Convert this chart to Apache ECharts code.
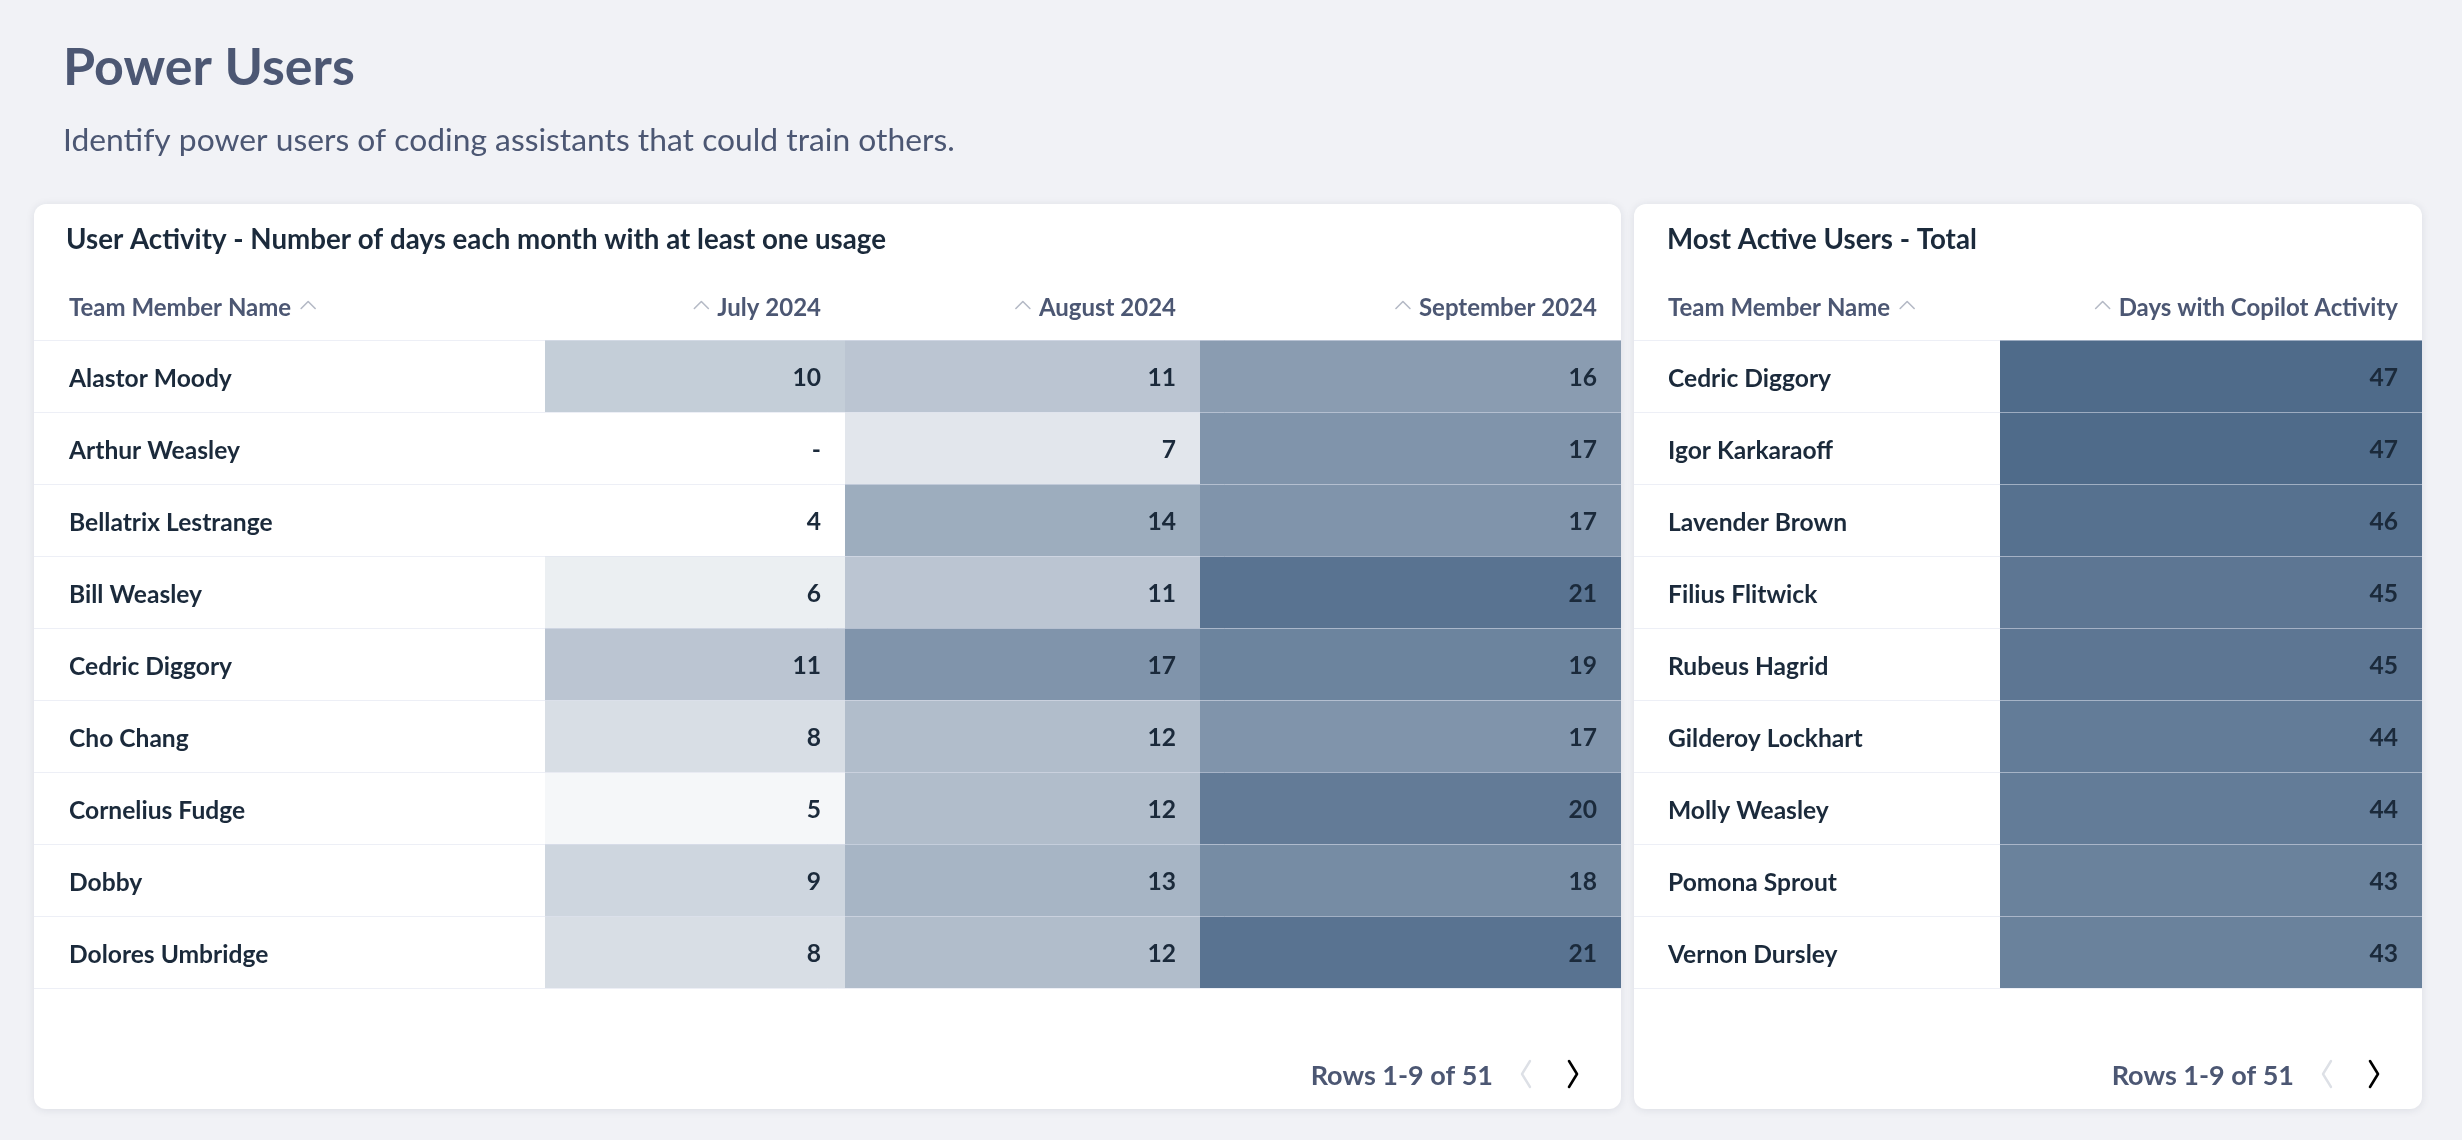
<!DOCTYPE html>
<html><head><meta charset="utf-8">
<script src="https://cdn.jsdelivr.net/npm/echarts@6/dist/echarts.min.js"></script>
<style>html,body{margin:0;padding:0;background:#f1f2f6}#c{width:2462px;height:1140px}</style>
</head><body><div id="c"></div>
<script>
// ---- text ----
const pageTitle = 'Power Users';
const pageSubtitle = 'Identify power users of coding assistants that could train others.';
const activityTitle = 'User Activity - Number of days each month with at least one usage';
const totalTitle = 'Most Active Users - Total';
const nameHeader = 'Team Member Name';
const pagerText = 'Rows 1-9 of 51';

// ---- data: left table ----
const months = ['July 2024', 'August 2024', 'September 2024'];
const activityNames = ['Alastor Moody', 'Arthur Weasley', 'Bellatrix Lestrange', 'Bill Weasley', 'Cedric Diggory', 'Cho Chang', 'Cornelius Fudge', 'Dobby', 'Dolores Umbridge'];
const julyDays = [10, null, 4, 6, 11, 8, 5, 9, 8];
const augustDays = [11, 7, 14, 11, 17, 12, 12, 13, 12];
const septemberDays = [16, 17, 17, 21, 19, 17, 20, 18, 21];

// ---- data: right table ----
const totalHeader = 'Days with Copilot Activity';
const totalNames = ['Cedric Diggory', 'Igor Karkaraoff', 'Lavender Brown', 'Filius Flitwick', 'Rubeus Hagrid', 'Gilderoy Lockhart', 'Molly Weasley', 'Pomona Sprout', 'Vernon Dursley'];
const totalDays = [47, 47, 46, 45, 45, 44, 44, 43, 43];

// ---- layout ----
const FONT = 'Lato';
const TOP = 340, ROWS_H = 648;
const cardL = {x: 34, y: 204, w: 1587, h: 905};
const cardR = {x: 1634, y: 204, w: 788, h: 905};
const colsL = [{x: 545, w: 300}, {x: 845, w: 355}, {x: 1200, w: 421}];
const colR = {x: 2000, w: 422};
const PAD = 24;
const ROW_FS = 24.6;
const DARK = '#1b2a3b', SLATE = '#4c5773';

const ctx = document.createElement('canvas').getContext('2d');
function tw(text, font) { ctx.font = font; return ctx.measureText(text).width; }

function toData(arr) { return arr.map((v, i) => [0, i, v]); }

function renderCell(params, api) {
  const i = api.value(1);
  const c = api.coord([0, i]);
  const sz = api.size([1, 1]);
  const r = params.coordSys;
  const v = api.value(2);
  const has = v != null && !isNaN(v);
  return {
    type: 'group',
    children: [
      {type: 'rect', shape: {x: r.x, y: c[1] - sz[1] / 2, width: r.width, height: sz[1]},
       style: {fill: has ? api.visual('color') : '#ffffff'}},
      {type: 'text', style: {text: has ? String(v) : '-', x: r.x + r.width - PAD, y: c[1] + 2,
        align: 'right', verticalAlign: 'middle', fontSize: ROW_FS, fontWeight: 'bold', fontFamily: FONT, fill: DARK}}
    ]
  };
}

const grids = [], xAxes = [], yAxes = [], series = [];
function addGrid(x, w, cats, names, opts) {
  const idx = grids.length;
  grids.push({left: x, top: TOP, width: w, height: ROWS_H, containLabel: false});
  xAxes.push({type: 'category', gridIndex: idx, data: cats, show: false});
  yAxes.push(Object.assign({type: 'category', gridIndex: idx, data: names, inverse: true,
    axisLine: {show: false}, axisTick: {show: false}, axisLabel: {show: false}, splitLine: {show: false}}, opts || {}));
  return idx;
}
const sepLine = {show: true, lineStyle: {color: 'rgba(222,226,238,0.55)', width: 1}};
// full-width grids for row separators (drawn above the cells)
addGrid(cardL.x, cardL.w, [''], activityNames, {z: 10, splitLine: sepLine});
addGrid(cardR.x, cardR.w, [''], totalNames, {z: 10, splitLine: sepLine});
const nameLabel = (margin) => ({show: true, margin: margin, align: 'left',
  formatter: '{n|{value}}',
  rich: {n: {padding: [6, 0, 0, 0], fontSize: ROW_FS, fontWeight: 'bold', fontFamily: FONT, color: DARK}},
  fontSize: ROW_FS, fontWeight: 'bold', fontFamily: FONT, color: DARK});
const monthData = [julyDays, augustDays, septemberDays];
colsL.forEach((col, k) => {
  const g = addGrid(col.x, col.w, [months[k]], activityNames,
    k === 0 ? {axisLabel: nameLabel(col.x - (cardL.x + 35))} : {});
  series.push({type: 'custom', xAxisIndex: g, yAxisIndex: g, renderItem: renderCell,
    encode: {x: 0, y: 1}, data: toData(monthData[k]), z: 2});
});
const gR = addGrid(colR.x, colR.w, [totalHeader], totalNames, {axisLabel: nameLabel(colR.x - (cardR.x + 34))});
series.push({type: 'custom', xAxisIndex: gR, yAxisIndex: gR, renderItem: renderCell,
  encode: {x: 0, y: 1}, data: toData(totalDays), z: 2});

// ---- graphic: cards, titles, headers, pager ----
const graphic = [];
function txt(text, x, y, font, fill, align) {
  graphic.push({type: 'text', z: 100, style: {text: text, x: x, y: y, font: font, fill: fill,
    align: align || 'left', textAlign: align || 'left', verticalAlign: 'middle', textVerticalAlign: 'middle'}});
}
function poly(points, stroke, lw) {
  graphic.push({type: 'polyline', z: 100, shape: {points: points},
    style: {stroke: stroke, lineWidth: lw, fill: null, lineCap: 'round', lineJoin: 'round'}});
}
[cardL, cardR].forEach(c => graphic.push({type: 'rect', z: -10,
  shape: {x: c.x, y: c.y, width: c.w, height: c.h, r: 12},
  style: {fill: '#ffffff', shadowBlur: 8, shadowColor: 'rgba(30,40,70,0.10)', shadowOffsetY: 1}}));

txt(pageTitle, 63, 68, 'bold 52px ' + FONT, SLATE);
txt(pageSubtitle, 63, 141, '31.8px ' + FONT, SLATE);
txt(activityTitle, cardL.x + 32, 240, 'bold 27.7px ' + FONT, DARK);
txt(totalTitle, cardR.x + 33, 240, 'bold 27.7px ' + FONT, DARK);

const HY = 308, AY = 305;
const hFont = 'bold 24px ' + FONT;
const ARROW = '#b5bac6';
function upArrow(ax) { poly([[ax, AY + 3.5], [ax + 7, AY - 3.5], [ax + 14, AY + 3.5]], ARROW, 1.6); }
function nameHead(x) {
  txt(nameHeader, x, HY, hFont, SLATE);
  upArrow(x + tw(nameHeader, hFont) + 10);
}
function rightHead(text, right) {
  txt(text, right, HY, hFont, SLATE, 'right');
  upArrow(right - tw(text, hFont) - 9 - 14);
}
nameHead(cardL.x + 35);
colsL.forEach((col, k) => rightHead(months[k], col.x + col.w - PAD));
nameHead(cardR.x + 34);
rightHead(totalHeader, colR.x + colR.w - PAD);

const PY = 1074;
[cardL, cardR].forEach(c => {
  const right = c.x + c.w;
  txt(pagerText, right - 128, PY + 2, 'bold 27px ' + FONT, SLATE, 'right');
  const a = right - 95, b = right - 48;
  poly([[a + 4, PY - 13], [a - 4, PY], [a + 4, PY + 13]], '#dde0e6', 2.4);
  poly([[b - 4, PY - 13], [b + 4, PY], [b - 4, PY + 13]], '#000000', 2.6);
});

const chart = echarts.init(document.getElementById('c'), null, {renderer: 'canvas'});
chart.setOption({
  backgroundColor: '#f1f2f6',
  animation: false,
  textStyle: {fontFamily: FONT},
  grid: grids,
  xAxis: xAxes,
  yAxis: yAxes,
  visualMap: [
    {type: 'continuous', show: false, seriesIndex: [0, 1, 2], dimension: 2, min: 4, max: 22,
     inRange: {color: ['#ffffff', '#4f6b8a']}, outOfRange: {color: '#ffffff'}},
    {type: 'continuous', show: false, seriesIndex: [3], dimension: 2, min: 21, max: 47,
     inRange: {color: ['#ffffff', '#4f6b8a']}, outOfRange: {color: '#ffffff'}}
  ],
  series: series,
  graphic: graphic
});
</script></body></html>
